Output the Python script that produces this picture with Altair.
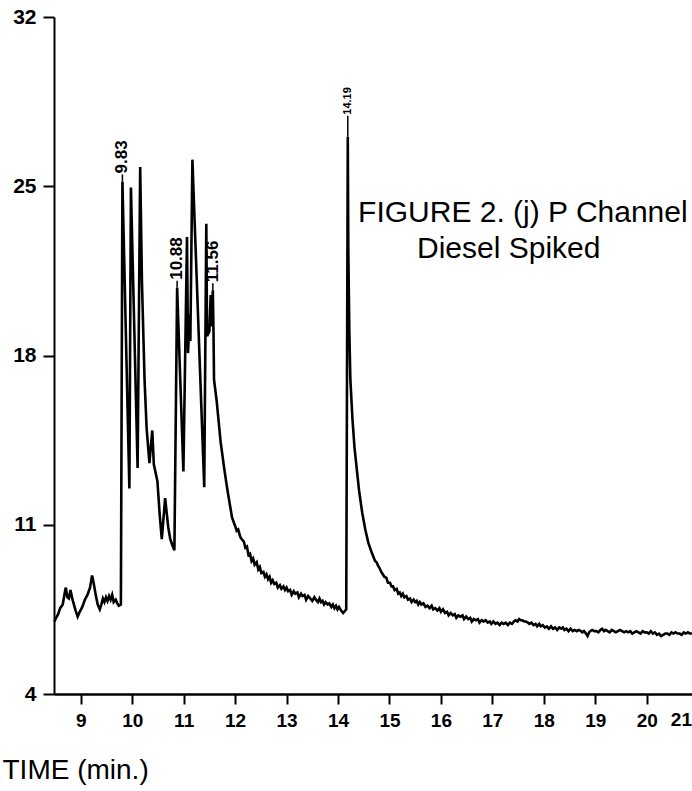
import altair as alt
import pandas as pd

# ---- chromatogram trace (retention time in min, detector signal) ----
time_min = [
    8.49, 8.52, 8.56, 8.60, 8.65, 8.69, 8.71, 8.74, 8.77, 8.80, 8.84, 8.90, 8.94, 8.98,
    9.03, 9.08, 9.13, 9.18, 9.22, 9.25, 9.29, 9.33, 9.37, 9.40, 9.43, 9.46, 9.49, 9.52,
    9.55, 9.58, 9.61, 9.64, 9.68, 9.71, 9.74, 9.78,
    9.81, 9.945, 9.975, 10.105, 10.155, 10.19, 10.24, 10.28, 10.335, 10.39, 10.42, 10.49,
    10.535, 10.575, 10.64, 10.70, 10.74, 10.79, 10.82, 10.873, 10.995, 11.065, 11.085,
    11.10, 11.115, 11.13, 11.17, 11.40, 11.44, 11.455, 11.50, 11.525, 11.54, 11.567,
    11.58, 11.59, 11.64, 11.72, 11.79, 11.85, 11.94,
    12.00, 12.03, 12.06, 12.10, 12.13, 12.17, 12.20, 12.23, 12.26, 12.29, 12.32, 12.35,
    12.38, 12.42, 12.45, 12.48, 12.51, 12.55, 12.58, 12.61, 12.64, 12.67, 12.70, 12.73,
    12.76, 12.80, 12.83, 12.87, 12.90, 12.94, 12.97, 13.00, 13.03, 13.07, 13.10, 13.14,
    13.17, 13.21, 13.24, 13.28, 13.31, 13.35, 13.38, 13.42, 13.46, 13.50, 13.54, 13.57,
    13.61, 13.64, 13.67, 13.70, 13.73, 13.76, 13.80, 13.83, 13.87, 13.90, 13.93, 13.96,
    13.99, 14.02, 14.06, 14.10, 14.16,
    14.19, 14.20, 14.22, 14.24, 14.28, 14.32, 14.37, 14.41, 14.47, 14.53, 14.59, 14.655,
    14.72, 14.75, 14.78, 14.81, 14.84, 14.87, 14.90, 14.94, 14.97, 15.01, 15.04, 15.07,
    15.10, 15.14, 15.17, 15.20, 15.23, 15.26, 15.29, 15.33, 15.36, 15.40, 15.43, 15.47,
    15.50, 15.53, 15.56, 15.59, 15.62, 15.66, 15.70, 15.74, 15.78, 15.82, 15.85, 15.89,
    15.93, 15.97, 16.00, 16.04, 16.08, 16.12, 16.15, 16.19, 16.23, 16.27, 16.30, 16.34,
    16.38, 16.42, 16.45, 16.49, 16.53, 16.57, 16.60, 16.64, 16.68, 16.72, 16.75, 16.79,
    16.83, 16.87, 16.91, 16.95, 16.98, 17.02, 17.06, 17.10, 17.14, 17.18, 17.22, 17.26,
    17.30, 17.34, 17.38, 17.42, 17.45, 17.49, 17.52, 17.55, 17.58, 17.62, 17.65, 17.69,
    17.72, 17.76, 17.80, 17.84, 17.87, 17.91, 17.94, 17.98, 18.02, 18.06, 18.10, 18.14,
    18.18, 18.22, 18.26, 18.30, 18.34, 18.37, 18.40, 18.44, 18.48, 18.52, 18.56, 18.60,
    18.64, 18.68, 18.72, 18.75, 18.78, 18.82, 18.85, 18.88, 18.90, 18.94, 18.98, 19.02,
    19.06, 19.10, 19.13, 19.17, 19.20, 19.24, 19.28, 19.32, 19.36, 19.40, 19.44, 19.48,
    19.52, 19.56, 19.60, 19.64, 19.68, 19.72, 19.76, 19.80, 19.84, 19.88, 19.92, 19.96,
    20.00, 20.04, 20.08, 20.12, 20.16, 20.20, 20.24, 20.28, 20.32, 20.36, 20.40, 20.44,
    20.48, 20.52, 20.56, 20.60, 20.64, 20.68, 20.72, 20.76, 20.80, 20.84, 20.88,
]
signal = [
    7.0, 7.15, 7.3, 7.55, 7.7, 8.2, 8.4, 8.0, 7.95, 8.3, 7.9, 7.45, 7.2, 7.4,
    7.6, 7.9, 8.1, 8.4, 8.9, 8.6, 8.1, 7.7, 7.5, 7.7, 7.95, 7.8, 8.0, 7.85,
    8.05, 7.9, 8.1, 7.8, 7.9, 7.75, 7.65, 7.7,
    25.2, 12.5, 24.95, 13.35, 25.8, 21.0, 17.0, 15.0, 13.55, 14.9, 13.5, 12.8,
    11.4, 10.4, 12.1, 10.9, 10.4, 10.1, 9.95, 20.8, 13.2, 22.9, 18.1,
    18.8, 19.7, 18.6, 26.1, 12.55, 23.45, 18.8, 19.0, 20.5, 19.2, 20.7,
    19.0, 17.0, 16.15, 14.4, 13.3, 12.45, 11.3,
    10.95, 10.75, 10.8, 10.5, 10.4, 10.3, 10.05, 10.1, 9.75, 9.8, 9.5, 9.6,
    9.35, 9.45, 9.15, 9.25, 9.0, 9.05, 8.85, 8.95, 8.75, 8.85, 8.6, 8.7,
    8.55, 8.6, 8.4, 8.5, 8.35, 8.45, 8.3, 8.4, 8.25, 8.3, 8.1, 8.25,
    8.15, 8.2, 8.0, 8.15, 8.05, 8.1, 7.9, 8.05, 7.95, 7.85, 8.0, 7.9,
    7.8, 7.95, 7.8, 7.85, 7.7, 7.8, 7.7, 7.75, 7.6, 7.7, 7.55, 7.65,
    7.5, 7.6, 7.45, 7.35, 7.5,
    27.05, 22.4, 19.0, 17.0, 15.4, 14.2, 13.2, 12.4, 11.5, 10.8, 10.25, 9.85,
    9.5, 9.45, 9.3, 9.2, 9.05, 8.95, 8.85, 8.8, 8.6, 8.6, 8.45, 8.45,
    8.3, 8.35, 8.15, 8.2, 8.05, 8.15, 8.0, 8.05, 7.9, 7.95, 7.8, 7.9,
    7.8, 7.85, 7.7, 7.8, 7.7, 7.75, 7.6, 7.65, 7.55, 7.65, 7.5, 7.55,
    7.45, 7.55, 7.4, 7.5, 7.35, 7.4, 7.25, 7.35, 7.25, 7.3, 7.15, 7.25,
    7.2, 7.25, 7.1, 7.2, 7.1, 7.15, 7.0, 7.1, 7.05, 7.1, 6.95, 7.05,
    7.0, 7.05, 6.95, 7.0, 6.9, 7.0, 6.9, 6.95, 6.85, 6.95, 6.9, 6.95,
    6.85, 6.95, 6.9, 7.0, 7.05, 7.0, 7.1, 7.05, 7.05, 7.0, 7.0, 6.95,
    6.9, 6.95, 6.85, 6.9, 6.8, 6.9, 6.8, 6.85, 6.75, 6.8, 6.7, 6.8,
    6.7, 6.75, 6.65, 6.75, 6.7, 6.75, 6.65, 6.7, 6.6, 6.7, 6.6, 6.65,
    6.6, 6.65, 6.6, 6.55, 6.6, 6.5, 6.4, 6.55, 6.6, 6.65, 6.6, 6.6,
    6.55, 6.65, 6.7, 6.6, 6.65, 6.6, 6.55, 6.65, 6.6, 6.55, 6.6, 6.65,
    6.6, 6.55, 6.6, 6.55, 6.6, 6.5, 6.55, 6.6, 6.55, 6.5, 6.6, 6.55,
    6.55, 6.5, 6.6, 6.5, 6.55, 6.45, 6.5, 6.4, 6.45, 6.5, 6.5, 6.45,
    6.55, 6.5, 6.55, 6.5, 6.5, 6.45, 6.55, 6.5, 6.55, 6.5, 6.5,
]

# ---- labelled peaks ----
peak_times = [9.81, 10.873, 11.567, 14.19]
peak_heights = [25.2, 20.8, 20.7, 27.05]
peak_labels = ["9.83", "10.88", "11.56", "14.19"]

# ---- axes ----
x_ticks = [9, 10, 11, 12, 13, 14, 15, 16, 17, 18, 19, 20]
x_edge_label = ["21"]
y_ticks = [4, 11, 18, 25, 32]

# ---- caption ----
caption_text = ["FIGURE 2. (j) P Channel", "Diesel Spiked"]
caption_time = [14.39, 15.535]
caption_signal = [23.9, 22.4]

W, H = 638, 677
FONT = "Liberation Sans"

trace = pd.DataFrame({"t": time_min, "s": signal})
peaks = pd.DataFrame({"t": peak_times, "s": peak_heights, "label": peak_labels})
caption = pd.DataFrame({"t": caption_time, "s": caption_signal, "text": caption_text})
edge = pd.DataFrame({"label": x_edge_label})

x_scale = alt.Scale(domain=[8.48, 20.88], nice=False, zero=False)
y_scale = alt.Scale(domain=[4, 32], nice=False, zero=False)

x_axis = alt.Axis(
    values=x_ticks, grid=False, labelFlush=False,
    title="TIME (min.)", titleAlign="left", titleX=-52, titleY=84,
    titleBaseline="alphabetic", titleFont=FONT, titleFontSize=28,
    titleFontWeight="normal", titleColor="black",
    labelFont=FONT, labelFontSize=19, labelFontWeight="bold", labelColor="black",
    labelPadding=7, tickSize=10, tickWidth=2, tickColor="black",
    domainWidth=2.5, domainColor="black",
)
y_axis = alt.Axis(
    values=y_ticks, grid=False, title=None,
    labelFont=FONT, labelFontSize=21, labelFontWeight="bold", labelColor="black",
    labelPadding=7, tickSize=11, tickWidth=2, tickColor="black",
    domainWidth=2, domainColor="black",
)

line = alt.Chart(trace).mark_line(color="black", strokeWidth=2.6).encode(
    x=alt.X("t:Q", scale=x_scale, axis=x_axis),
    y=alt.Y("s:Q", scale=y_scale, axis=y_axis),
    order="t:Q",
)

big_peaks = alt.Chart(peaks).transform_filter(alt.datum.label != "14.19")
small_peaks = alt.Chart(peaks).transform_filter(alt.datum.label == "14.19")

big_dash = big_peaks.mark_rule(color="black", strokeWidth=1.5, y2Offset=-7).encode(
    x="t:Q", y="s:Q", y2="s:Q")
big_text = big_peaks.mark_text(
    angle=270, align="left", baseline="middle", dx=8,
    font=FONT, fontSize=17, fontWeight="bold", color="black",
).encode(x="t:Q", y="s:Q", text="label:N")

small_dash = small_peaks.mark_rule(color="black", strokeWidth=1.5, y2Offset=-21).encode(
    x="t:Q", y="s:Q", y2="s:Q")
small_text = small_peaks.mark_text(
    angle=270, align="left", baseline="middle", dx=22,
    font=FONT, fontSize=11, fontWeight="bold", color="black",
).encode(x="t:Q", y="s:Q", text="label:N")

cap = alt.Chart(caption).mark_text(
    align="left", baseline="middle", font=FONT, fontSize=30, color="black",
).encode(x="t:Q", y="s:Q", text="text:N")

edge_label = alt.Chart(edge).mark_text(
    align="right", baseline="top", font=FONT, fontSize=19, fontWeight="bold", color="black",
).encode(x=alt.value(W), y=alt.value(H + 17), text="label:N")

chart = alt.layer(line, big_dash, big_text, small_dash, small_text, cap, edge_label).properties(
    width=W, height=H,
    autosize=alt.AutoSizeParams(type="none"),
    padding={"left": 54, "top": 17, "right": 0, "bottom": 97},
    background="white",
).configure_view(stroke=None)

chart.save("out.html", embed_options={"renderer": "svg", "actions": False})
